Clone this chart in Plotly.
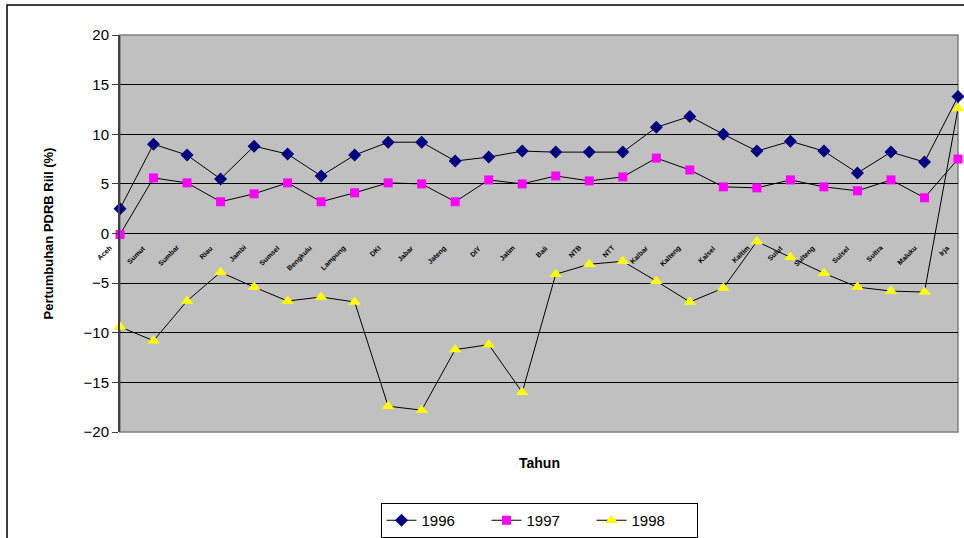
import plotly.graph_objects as go

provinces = ["Aceh", "Sumut", "Sumbar", "Riau", "Jambi", "Sumsel", "Bengkulu", "Lampung",
             "DKI", "Jabar", "Jateng", "DIY", "Jatim", "Bali", "NTB", "NTT", "Kalbar",
             "Kalteng", "Kalsel", "Kaltim", "Sulut", "Sulteng", "Sulsel", "Sultra",
             "Maluku", "Irja"]
g1996 = [2.5, 9.0, 7.9, 5.5, 8.8, 8.0, 5.8, 7.9, 9.2, 9.2, 7.3, 7.7, 8.3, 8.2, 8.2, 8.2,
         10.7, 11.8, 10.0, 8.3, 9.3, 8.3, 6.1, 8.2, 7.2, 13.8]
g1997 = [-0.1, 5.6, 5.1, 3.2, 4.0, 5.1, 3.2, 4.1, 5.1, 5.0, 3.2, 5.4, 5.0, 5.8, 5.3, 5.7,
         7.6, 6.4, 4.7, 4.6, 5.4, 4.7, 4.3, 5.4, 3.6, 7.5]
g1998 = [-9.4, -10.8, -6.8, -3.9, -5.4, -6.8, -6.4, -6.9, -17.4, -17.8, -11.7, -11.2, -16.0,
         -4.1, -3.1, -2.8, -4.8, -6.9, -5.5, -0.8, -2.4, -4.0, -5.4, -5.8, -5.9, 12.6]
series_names = ["1996", "1997", "1998"]

W, H = 964, 538
L, R, T, B = 120, 6, 35, 106
pw, ph = W - L - R, H - T - B

fig = go.Figure()
styles = [
    dict(symbol="diamond", color="#000080", size=10),
    dict(symbol="square", color="#FF00FF", size=9),
    dict(symbol="triangle-up", color="#FFFF00", size=11),
]
for name, vals, st in zip(series_names, [g1996, g1997, g1998], styles):
    fig.add_trace(go.Scatter(
        x=provinces, y=vals, name=name, mode="lines+markers",
        line=dict(color="black", width=1),
        marker=dict(symbol=st["symbol"], color=st["color"], size=st["size"],
                    line=dict(width=0)),
        cliponaxis=False,
    ))

annotations = []
for p in provinces:
    annotations.append(dict(
        x=p, y=0, xref="x", yref="y", text="<b>" + p + "</b>", showarrow=False,
        textangle=-45, xanchor="right", yanchor="top", xshift=-4, yshift=-8,
        font=dict(family="Liberation Sans, Arial", size=7, color="black"),
    ))
annotations.append(dict(
    x=0.5, y=(432 - 463) / ph, xref="paper", yref="paper", text="<b>Tahun</b>",
    showarrow=False, xanchor="center", yanchor="middle",
    font=dict(family="Liberation Sans, Arial", size=14, color="black"),
))
annotations.append(dict(
    x=(48 - L) / pw, y=0.5, xref="paper", yref="paper",
    text="<b>Pertumbuhan PDRB Riil (%)</b>", textangle=-90,
    showarrow=False, xanchor="center", yanchor="middle",
    font=dict(family="Liberation Sans, Arial", size=13, color="black"),
))

shapes = [
    dict(type="rect", xref="paper", yref="paper",
         x0=(7 - L) / pw, x1=1.2, y0=-0.5, y1=(432 - 5) / ph,
         line=dict(color="black", width=1.5), layer="below"),
    dict(type="rect", xref="paper", yref="paper", x0=0, x1=1, y0=0, y1=1,
         line=dict(color="#808080", width=1.5), layer="below"),
]

fig.update_layout(
    width=W, height=H,
    margin=dict(l=L, r=R, t=T, b=B, autoexpand=False),
    paper_bgcolor="white", plot_bgcolor="#C0C0C0",
    font=dict(family="Liberation Sans, Arial", size=15, color="black"),
    showlegend=True,
    legend=dict(orientation="h", x=(539 - L) / pw, xanchor="center",
                y=(432 - 503) / ph, yanchor="top",
                bordercolor="black", borderwidth=1, bgcolor="white",
                font=dict(size=15), entrywidth=60, entrywidthmode="pixels",
                tracegroupgap=0),
    annotations=annotations,
    shapes=shapes,
)
fig.update_xaxes(range=[0, len(provinces) - 1], showticklabels=False, showgrid=False,
                 zeroline=False, ticks="", showline=False)
fig.update_yaxes(range=[-20, 20], dtick=5, showgrid=True, gridcolor="black", gridwidth=1,
                 zeroline=False, ticks="outside", ticklen=6, tickcolor="#404040",
                 showline=True, linecolor="#404040", linewidth=2,
                 tickfont=dict(size=15))

fig.write_html("out.html")
